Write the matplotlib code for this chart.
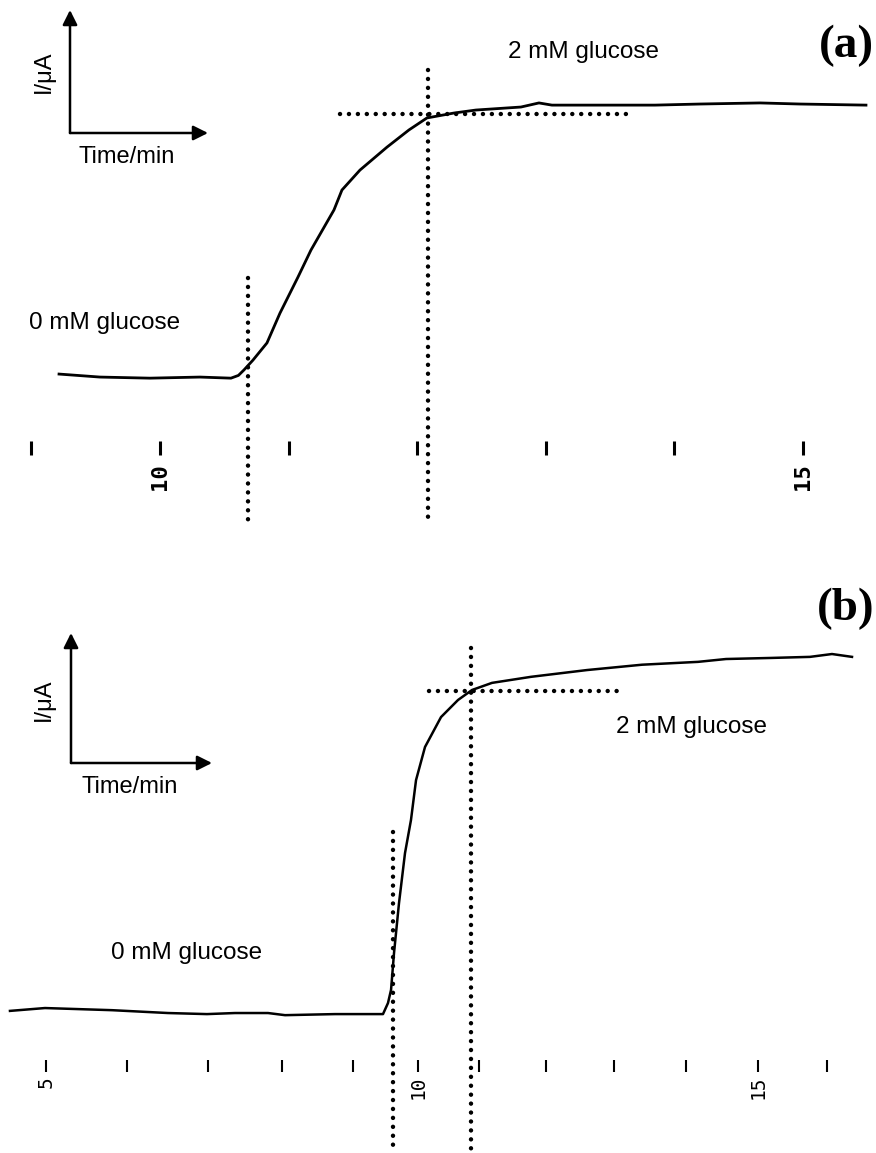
import matplotlib
matplotlib.use("Agg")
import matplotlib.pyplot as plt

# ---- panel (a): current trace ----
# time in minutes, current in arbitrary units (0 = baseline, 1 = plateau)
time_a = [9.215, 9.533, 9.922, 10.311, 10.552, 10.610, 10.653, 10.723, 10.832, 10.933,
          11.073, 11.174, 11.353, 11.415, 11.555, 11.765, 11.936, 12.076, 12.286,
          12.457, 12.807, 12.947, 13.048, 13.499, 13.849, 14.199, 14.666, 14.977, 15.490]
curr_a = [0.011, 0.0, -0.004, 0.0, -0.004, 0.006, 0.026, 0.062, 0.125, 0.234,
          0.366, 0.465, 0.612, 0.685, 0.758, 0.842, 0.905, 0.949, 0.967,
          0.978, 0.989, 1.004, 0.996, 0.996, 0.996, 1.0, 1.004, 1.0, 0.996]
ticks_a = [9, 10, 11, 12, 13, 14, 15]
tick_labels_a = {10: "10", 15: "15"}
# response start / end markers (time), and plateau level
start_a, end_a, level_a = 10.684, 12.084, 0.963

# ---- panel (b) ----
time_b = [4.494, 4.986, 5.927, 6.713, 7.261, 7.654, 8.118, 8.357, 9.059, 9.733,
          9.803, 9.846, 9.888, 9.958, 10.042, 10.126, 10.197, 10.323, 10.548,
          10.787, 10.983, 11.264, 11.812, 12.598, 13.371, 14.157, 14.551,
          15.183, 15.730, 16.039, 16.320]
curr_b = [0.006, 0.014, 0.008, 0.0, -0.003, 0.0, 0.0, -0.006, -0.003, -0.003,
          0.028, 0.065, 0.169, 0.309, 0.449, 0.542, 0.654, 0.747, 0.831,
          0.879, 0.907, 0.927, 0.944, 0.963, 0.978, 0.986, 0.994,
          0.997, 1.0, 1.008, 1.0]
ticks_b = [5.0, 6.14, 7.28, 8.31, 9.31, 10.22, 11.08, 12.02, 12.98, 13.99, 15.0, 15.97]
tick_labels_b = {5.0: "5", 10.22: "10", 15.0: "15"}
start_b, end_b, level_b = 9.874, 10.969, 0.904

W, H = 876, 1153
SANS = "Liberation Sans"
fig = plt.figure(figsize=(W / 100, H / 100), dpi=100)


def fpos(x, y):
    # figure pixel (from top-left) -> figure fraction
    return x / W, 1 - y / H


dot = dict(color="black", lw=3.2, linestyle=(0, (0.01, 2.0)), dash_capstyle="round")


def draw_axes_key(x0, y0, xtip, ytip, ylab, tlab):
    for tip in (fpos(x0, ytip), fpos(xtip, y0)):
        fig.add_artist(matplotlib.patches.FancyArrowPatch(
            fpos(x0, y0), tip, transform=fig.transFigure, arrowstyle="-|>",
            mutation_scale=22, lw=1.8, color="black", shrinkA=0, shrinkB=0))
    fig.text(*fpos(*ylab), "I/μA", rotation=90, ha="center", va="center",
             fontsize=17, family=SANS)
    fig.text(*fpos(*tlab), "Time/min", ha="center", va="center",
             fontsize=17, family=SANS)


# ---------------- (a) ----------------
ax_a = fig.add_axes([0, 1 - 560 / H, 1, 560 / H])
ax_a.set_xlim(8.756, 15.568)
ax_a.set_ylim(-0.670, 1.381)
ax_a.axis("off")
ax_a.plot(time_a, curr_a, color="black", lw=2.0)
ax_a.plot([start_a, start_a], [0.363, -0.531], **dot)
ax_a.plot([end_a, end_a], [1.125, -0.531], **dot)
ax_a.plot([11.40, 13.67], [level_a, level_a], **dot)
xt = ax_a.get_xaxis_transform()
ax_a.vlines(ticks_a, 0.1875, 0.2125, transform=xt, color="black", lw=2.2)
for t in ticks_a:
    if t in tick_labels_a:
        ax_a.text(t, 0.172, tick_labels_a[t], transform=xt, rotation=90,
                  ha="center", va="top", fontsize=16, family="DejaVu Sans Mono",
                  fontweight="bold")
fig.text(*fpos(846, 46), "(a)", ha="center", va="center", fontsize=34,
         family="Liberation Serif", fontweight="bold")
fig.text(*fpos(583, 52), "2 mM glucose", ha="center", va="center", fontsize=17.5, family=SANS)
fig.text(*fpos(105, 323), "0 mM glucose", ha="center", va="center", fontsize=17.5, family=SANS)
draw_axes_key(70, 133, 208, 10, (44, 72), (127, 157))

# ---------------- (b) ----------------
ax_b = fig.add_axes([0, 0, 1, 593 / H])
ax_b.set_xlim(4.354, 16.657)
ax_b.set_ylim(-0.393, 1.272)
ax_b.axis("off")
ax_b.plot(time_b, curr_b, color="black", lw=1.8)
ax_b.plot([start_b, start_b], [0.508, -0.385], **dot)
ax_b.plot([end_b, end_b], [1.025, -0.385], **dot)
ax_b.plot([10.379, 13.02], [level_b, level_b], **dot)
xt = ax_b.get_xaxis_transform()
ax_b.vlines(ticks_b, 0.137, 0.157, transform=xt, color="black", lw=1.5)
for t in ticks_b:
    if t in tick_labels_b:
        ax_b.text(t, 0.130, tick_labels_b[t], transform=xt, rotation=90,
                  ha="center", va="top", fontsize=14, family="DejaVu Sans Mono")
fig.text(*fpos(846, 609), "(b)", ha="center", va="center", fontsize=34,
         family="Liberation Serif", fontweight="bold")
fig.text(*fpos(691, 727), "2 mM glucose", ha="center", va="center", fontsize=17.5, family=SANS)
fig.text(*fpos(187, 953), "0 mM glucose", ha="center", va="center", fontsize=17.5, family=SANS)
draw_axes_key(71, 763, 212, 633, (44, 700), (130, 787))

fig.savefig("out.png", dpi=100)
